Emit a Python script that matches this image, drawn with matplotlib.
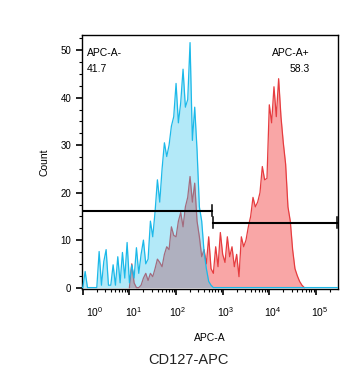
import numpy as np
import matplotlib
matplotlib.use("Agg")
import matplotlib.pyplot as plt
from matplotlib.transforms import ScaledTranslation

plt.rcParams['font.family'] = ['Liberation Sans', 'DejaVu Sans']

# histogram counts, one value per 0.05-decade bin
bin_step = 0.05
blue_start = 0.0
blue_counts = [0, 3.4, 0, 0, 0, 0, 0, 7.6, 0.5, 5.5,
               8, 0.5, 0.5, 4.8, 0.5, 6.5, 1, 7.4, 2, 9.5,
               1, 4.8, 2, 8.4, 3, 7, 10, 5, 6, 14,
               10.7, 16, 22.7, 18, 25, 30.5, 27.6, 30, 34, 36,
               43, 34.7, 39, 46, 38, 39.6, 51.6, 31, 38, 29,
               17, 14, 7.6, 4, 1.3, 0.5, 0]
red_start = 1.0
red_counts = [0, 5, 1, 0, 0, 0.5, 2, 3, 1.5, 3,
              2.3, 4, 6, 5.3, 4.4, 7, 8.6, 8, 12.8, 11,
              10.7, 14, 15.8, 12.8, 17, 19, 23.4, 18, 22, 14,
              10.7, 6.5, 8, 5, 10.7, 4, 3, 8.6, 4.4, 11.6,
              7, 5.3, 10.7, 6.5, 8.6, 4.4, 7, 2.3, 10.7, 8.6,
              10, 12.8, 15, 19, 17, 18, 20, 25.5, 22.7, 23,
              38.5, 34.7, 42.3, 36, 44, 36, 30.5, 26, 17, 14,
              8, 4, 2.5, 1.3, 0.5, 0]

neg_label, neg_pct = "APC-A-", "41.7"
pos_label, pos_pct = "APC-A+", "58.3"
neg_gate = (0.95, 600)
neg_gate_y = 16.2
pos_gate = (630, 2.9e5)
pos_gate_y = 13.7

fig = plt.figure(figsize=(3.56, 3.83), dpi=100)
ax = fig.add_axes([0.230, 0.2454, 0.719, 0.6632])

xmin, xmax = 10 ** -0.02, 10 ** 5.47

red_x = 10 ** (red_start + bin_step * np.arange(len(red_counts)))
blue_x = 10 ** (blue_start + bin_step * np.arange(len(blue_counts)))
blue_x = np.r_[xmin, blue_x, xmax]
blue_y = np.r_[0, blue_counts, 0]

ax.fill_between(red_x, red_counts, color='#f9a6a6', lw=0, zorder=1)
ax.plot(red_x, red_counts, color='#e63c3f', lw=0.9, zorder=2)
ax.fill_between(blue_x, blue_y, color='#2ec2ee', alpha=0.36, lw=0, zorder=3)
ax.plot(blue_x, blue_y, color='#1cb9e9', lw=0.9, zorder=4)

# gates
ax.plot(neg_gate, [neg_gate_y] * 2, color='black', lw=1.5, zorder=5)
ax.plot([neg_gate[1]] * 2, [neg_gate_y - 1.15, neg_gate_y + 1.15], color='black', lw=1.1, zorder=5)
ax.plot(pos_gate, [pos_gate_y] * 2, color='black', lw=1.5, zorder=5)
for gx in pos_gate:
    ax.plot([gx] * 2, [pos_gate_y - 1.15, pos_gate_y + 1.15], color='black', lw=1.1, zorder=5)

ax.text(0.02, 0.93, neg_label, transform=ax.transAxes, fontsize=7.5, va='center', ha='left')
ax.text(0.02, 0.865, neg_pct, transform=ax.transAxes, fontsize=7.5, va='center', ha='left')
ax.text(0.89, 0.93, pos_label, transform=ax.transAxes, fontsize=7.5, va='center', ha='right')
ax.text(0.89, 0.865, pos_pct, transform=ax.transAxes, fontsize=7.5, va='center', ha='right')

ax.set_xscale('log')
ax.set_xlim(xmin, xmax)
ax.set_ylim(-0.3, 53.2)

decades = [0, 1, 2, 3, 4, 5]
ax.set_xticks([10.0 ** d for d in decades])
ax.set_xticklabels([rf'$\mathregular{{10^{{{d}}}}}$' for d in decades])
ax.xaxis.set_minor_locator(matplotlib.ticker.LogLocator(base=10, subs=np.arange(2, 10)))
ax.xaxis.set_minor_formatter(matplotlib.ticker.NullFormatter())
ax.set_yticks([0, 10, 20, 30, 40, 50])
ax.set_yticks(np.arange(0, 53, 2.5), minor=True)

ax.tick_params(which='major', direction='out', length=4.5, width=1.2, labelsize=7, pad=3)
ax.tick_params(which='minor', direction='out', length=2.2, width=0.8)
ax.tick_params(axis='x', which='major', labelsize=7.5, pad=7)

offsets = [12, 4, 2, 3, 3, 4]
for lab, off in zip(ax.get_xticklabels(), offsets):
    lab.set_transform(lab.get_transform() + ScaledTranslation(off / 100, 0, fig.dpi_scale_trans))

for s in ax.spines.values():
    s.set_linewidth(1.0)

ax.set_xlabel('APC-A', fontsize=7.5)
ax.xaxis.set_label_coords(0.5, -0.175)
ax.set_ylabel('Count', fontsize=7.5)
ax.yaxis.set_label_coords(-0.125, 0.5)

fig.text(188 / 356, 1 - 360 / 383, 'CD127-APC', fontsize=10.5, ha='center', va='center', color='#222222')

fig.savefig('out.png', dpi=100)
